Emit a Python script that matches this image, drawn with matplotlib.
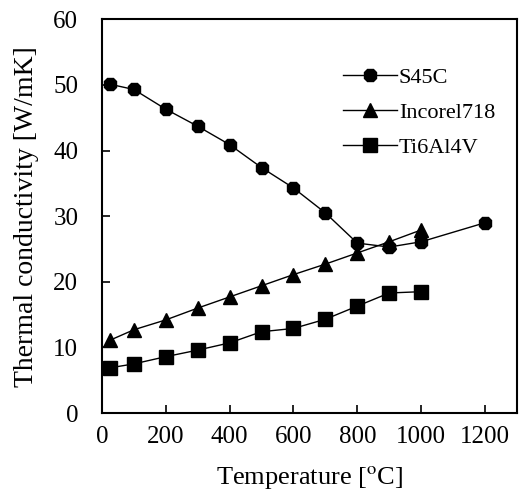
import matplotlib
matplotlib.use("Agg")
import matplotlib.pyplot as plt

plt.rcParams["font.family"] = "Liberation Serif"
plt.rcParams["mathtext.fontset"] = "stix"

# Thermal conductivity vs temperature for three workpiece materials
temp_s45c = [25, 100, 200, 300, 400, 500, 600, 700, 800, 900, 1000, 1200]
k_s45c = [50.1, 49.3, 46.3, 43.7, 40.9, 37.4, 34.3, 30.5, 25.9, 25.3, 26.1, 29.0]

temp_inconel = [25, 100, 200, 300, 400, 500, 600, 700, 800, 900, 1000]
k_inconel = [11.1, 12.7, 14.2, 16.0, 17.7, 19.4, 21.1, 22.7, 24.4, 26.1, 27.9]

temp_ti = [25, 100, 200, 300, 400, 500, 600, 700, 800, 900, 1000]
k_ti = [6.9, 7.5, 8.6, 9.6, 10.7, 12.4, 12.9, 14.3, 16.3, 18.3, 18.5]

fig = plt.figure(figsize=(5.2, 4.93), dpi=100)
ax = fig.add_axes([0.196, 0.162, 0.798, 0.799])

line_kw = dict(color="black", linewidth=1.0, markersize=9.5)
ax.plot(temp_s45c, k_s45c, marker="8", label="S45C", **line_kw)
ax.plot(temp_inconel, k_inconel, marker="^", label="Incorel718", **line_kw)
ax.plot(temp_ti, k_ti, marker="s", label="Ti6Al4V", **line_kw)

ax.set_xlim(0, 1300)
ax.set_ylim(0, 60)
ax.set_xticks(range(0, 1201, 200))
ax.set_yticks(range(0, 61, 10))
ax.tick_params(direction="in", length=6, width=1.2, labelsize=18)
ax.tick_params(axis="y", pad=17)
ax.tick_params(axis="x", pad=9)
for spine in ax.spines.values():
    spine.set_linewidth(1.5)

ax.set_xlabel("Temperature [$^{\\rm o}$C]", fontsize=19, labelpad=12)
ax.set_ylabel("Thermal conductivity [W/mK]", fontsize=20, labelpad=10)

ax.legend(loc="upper left", bbox_to_anchor=(0.56, 0.90), frameon=False,
          fontsize=16, handlelength=2.4, handletextpad=0.1, labelspacing=0.65,
          borderaxespad=0)

fig.savefig("out.png", dpi=100)
